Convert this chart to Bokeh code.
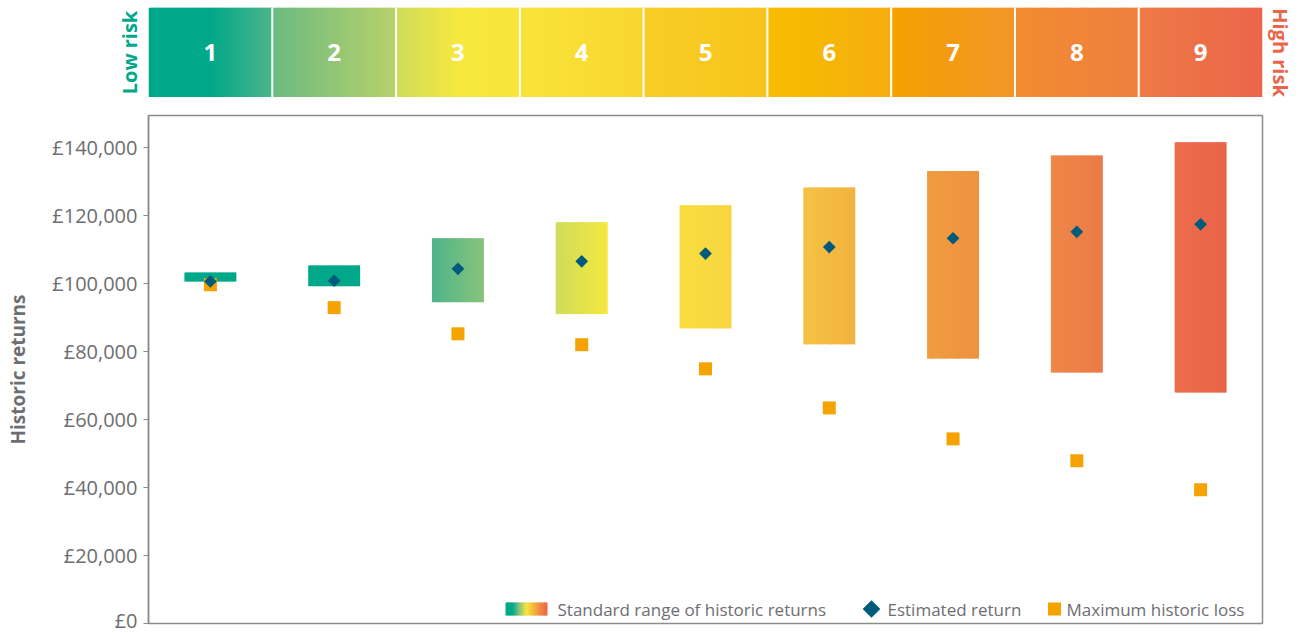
import numpy as np
from bokeh.plotting import figure
from bokeh.layouts import column
from bokeh.models import Range1d, FixedTicker, Label, LinearAxis
from bokeh.core.properties import value
from bokeh.embed import file_html
from bokeh.resources import INLINE

# ---------------- data ----------------
risk_levels = ["1", "2", "3", "4", "5", "6", "7", "8", "9"]
range_low = [100600, 99200, 94500, 91000, 86800, 82100, 77900, 73800, 67900]
range_high = [103200, 105300, 113300, 118000, 123000, 128200, 133100, 137600, 141500]
estimated_return = [100600, 100800, 104300, 106500, 108800, 110700, 113300, 115200, 117400]
max_historic_loss = [99600, 92900, 85200, 82000, 74900, 63400, 54300, 47900, 39300]
y_ticks = [0, 20000, 40000, 60000, 80000, 100000, 120000, 140000]
y_tick_labels = ["£0", "£20,000", "£40,000", "£60,000", "£80,000",
                 "£100,000", "£120,000", "£140,000"]
legend_labels = ["Standard range of historic returns", "Estimated return",
                 "Maximum historic loss"]

# ---------------- style ----------------
FONT = "Open Sans"
TEAL = "#00a88a"
CORAL = "#eb654b"
GREY_TXT = "#6d6e71"
AXIS_GREY = "#8c8c8c"
DIAMOND = "#005a7c"
SQUARE = "#f5a300"

band_stops = [
    ["#00a88a", "#00a88a", "#4db58a"],
    ["#6bbb80", "#b8d16b"],
    ["#cedc5c", "#f6e83e", "#f8e43a"],
    ["#f9e43a", "#f9d62e"],
    ["#f8cd27", "#f8c41c"],
    ["#f7be00", "#f5ad10"],
    ["#f4a100", "#f29529"],
    ["#f28c30", "#ef7f40"],
    ["#ee7a45", "#eb654b"],
]
bar_stops = [
    ["#00a88a", "#00a88a"],
    ["#00a88a", "#00a88a"],
    ["#4db58a", "#88c37c"],
    ["#d0dc5c", "#f4e83e"],
    ["#f8de3f", "#f7d540"],
    ["#f5c245", "#f3b23f"],
    ["#f09d3e", "#ef9241"],
    ["#ee8747", "#ec7a47"],
    ["#ec6d4b", "#ea634a"],
]
legend_stops = ["#00a88a", "#00a88a", "#8cc37a", "#f6e83e", "#f7b63a", "#ee8646", "#eb654b"]


def _rgb(h):
    return np.array([int(h[i:i + 2], 16) for i in (1, 3, 5)], dtype=float)


def gradient(stops, n):
    pts = [_rgb(s) for s in stops]
    out = []
    for k in range(n):
        t = (k + 0.5) / n * (len(pts) - 1)
        j = min(int(t), len(pts) - 2)
        f = t - j
        c = pts[j] * (1 - f) + pts[j + 1] * f
        out.append("#%02x%02x%02x" % tuple(int(round(v)) for v in c))
    return out


def strips(x0, x1, stops, n):
    dw = (x1 - x0) / n
    lefts = [x0 + k * dw for k in range(n)]
    rights = [min(l + 1.6 * dw, x1) for l in lefts]
    return lefts, rights, gradient(stops, n)


n_cat = len(risk_levels)
centers = [i + 0.5 for i in range(n_cat)]
BAR_W = 0.42

W = 1301
# page-pixel helpers for placing legend pieces (layout only)
FR_L, FR_R, FR_T, FR_B = 148, 1262, 115, 623
Y_MAX = 149400


def x_of_px(px):
    return (px - FR_L) / ((FR_R - FR_L) / n_cat)


def y_of_py(py):
    return (FR_B - py) * Y_MAX / (FR_B - FR_T)


def label_axis(text, color, standoff):
    a = LinearAxis(ticker=FixedTicker(ticks=[]), axis_label=text)
    a.axis_line_color = None
    a.major_tick_line_color = None
    a.minor_tick_line_color = None
    a.major_tick_in = 0
    a.major_tick_out = 0
    a.major_label_standoff = 0
    a.major_label_text_font_size = "0px"
    a.axis_label_standoff = standoff
    a.axis_label_text_color = color
    a.axis_label_text_font = FONT
    a.axis_label_text_font_style = "bold"
    a.axis_label_text_font_size = "20px"
    return a


# ---------------- risk band ----------------
band = figure(width=W, height=97, x_range=Range1d(0, n_cat), y_range=Range1d(0, 1),
              output_backend="svg", toolbar_location=None,
              x_axis_location=None, y_axis_location=None,
              min_border_top=7, min_border_bottom=0,
              min_border_left=FR_L, min_border_right=W - FR_R)
band.outline_line_color = None
band.background_fill_color = "white"
band.border_fill_color = "white"

bl, br, bc = [], [], []
for i in range(n_cat):
    l, r, c = strips(i, i + 1, band_stops[i], 40)
    bl += l; br += r; bc += c
band.quad(left=bl, right=br, bottom=0, top=1, fill_color=bc, line_color=None)
band.segment(x0=list(range(1, n_cat)), x1=list(range(1, n_cat)), y0=0, y1=1,
             line_color="white", line_width=2)
band.text(x=centers, y=[0.5] * n_cat, text=risk_levels, text_color="white",
          text_font=value(FONT), text_font_style="bold", text_font_size="24px",
          text_align="center", text_baseline="middle")
band.add_layout(label_axis("Low risk", TEAL, 6), "left")
band.add_layout(label_axis("High risk", CORAL, 4), "right")

# ---------------- main chart ----------------
p = figure(width=W, height=536, x_range=Range1d(0, n_cat), y_range=Range1d(0, Y_MAX),
           output_backend="svg", toolbar_location=None, x_axis_location=None,
           min_border_top=18, min_border_bottom=10,
           min_border_left=FR_L, min_border_right=W - FR_R)
p.background_fill_color = "white"
p.border_fill_color = "white"
p.grid.visible = False
p.outline_line_color = AXIS_GREY
p.outline_line_width = 1.5

ax = p.yaxis[0]
ax.ticker = FixedTicker(ticks=y_ticks)
ax.major_label_overrides = {t: s for t, s in zip(y_ticks, y_tick_labels)}
ax.minor_tick_line_color = None
ax.major_tick_in = 0
ax.major_tick_out = 5
ax.major_tick_line_color = AXIS_GREY
ax.axis_line_color = AXIS_GREY
ax.axis_line_width = 1.5
ax.major_label_standoff = 6
ax.major_label_text_font = FONT
ax.major_label_text_font_size = "20px"
ax.major_label_text_color = GREY_TXT
ax.axis_label = "Historic returns"
ax.axis_label_text_font = FONT
ax.axis_label_text_font_style = "bold"
ax.axis_label_text_font_size = "19px"
ax.axis_label_text_color = GREY_TXT
ax.axis_label_standoff = 18

ql, qr, qb, qt, qc = [], [], [], [], []
for i in range(n_cat):
    l, r, c = strips(centers[i] - BAR_W / 2, centers[i] + BAR_W / 2, bar_stops[i], 24)
    ql += l; qr += r; qc += c
    qb += [range_low[i]] * len(l); qt += [range_high[i]] * len(l)
p.quad(left=ql, right=qr, bottom=qb, top=qt, fill_color=qc, line_color=None)

p.scatter(x=centers, y=max_historic_loss, marker="square", size=13,
          fill_color=SQUARE, line_color=None)
p.scatter(x=centers, y=estimated_return, marker="square", angle=np.pi / 4, size=9,
          fill_color=DIAMOND, line_color=None)

# ---------------- legend (drawn by hand) ----------------
LEG_Y = y_of_py(608.5)
sl, sr, sc = strips(x_of_px(505), x_of_px(547), legend_stops, 24)
p.quad(left=sl, right=sr, bottom=y_of_py(615), top=y_of_py(602), fill_color=sc, line_color=None)
p.scatter(x=[x_of_px(871)], y=[LEG_Y], marker="square", angle=np.pi / 4, size=12.5,
          fill_color=DIAMOND, line_color=None)
p.scatter(x=[x_of_px(1054)], y=[LEG_Y], marker="square", size=13,
          fill_color=SQUARE, line_color=None)
for px, txt in zip([557, 887, 1066], legend_labels):
    p.add_layout(Label(x=x_of_px(px), y=LEG_Y, text=txt, text_color=GREY_TXT,
                       text_font=FONT, text_font_size="17px",
                       text_align="left", text_baseline="middle"))

layout = column(band, p, spacing=0)
open("out.html", "w").write(file_html(layout, INLINE))
